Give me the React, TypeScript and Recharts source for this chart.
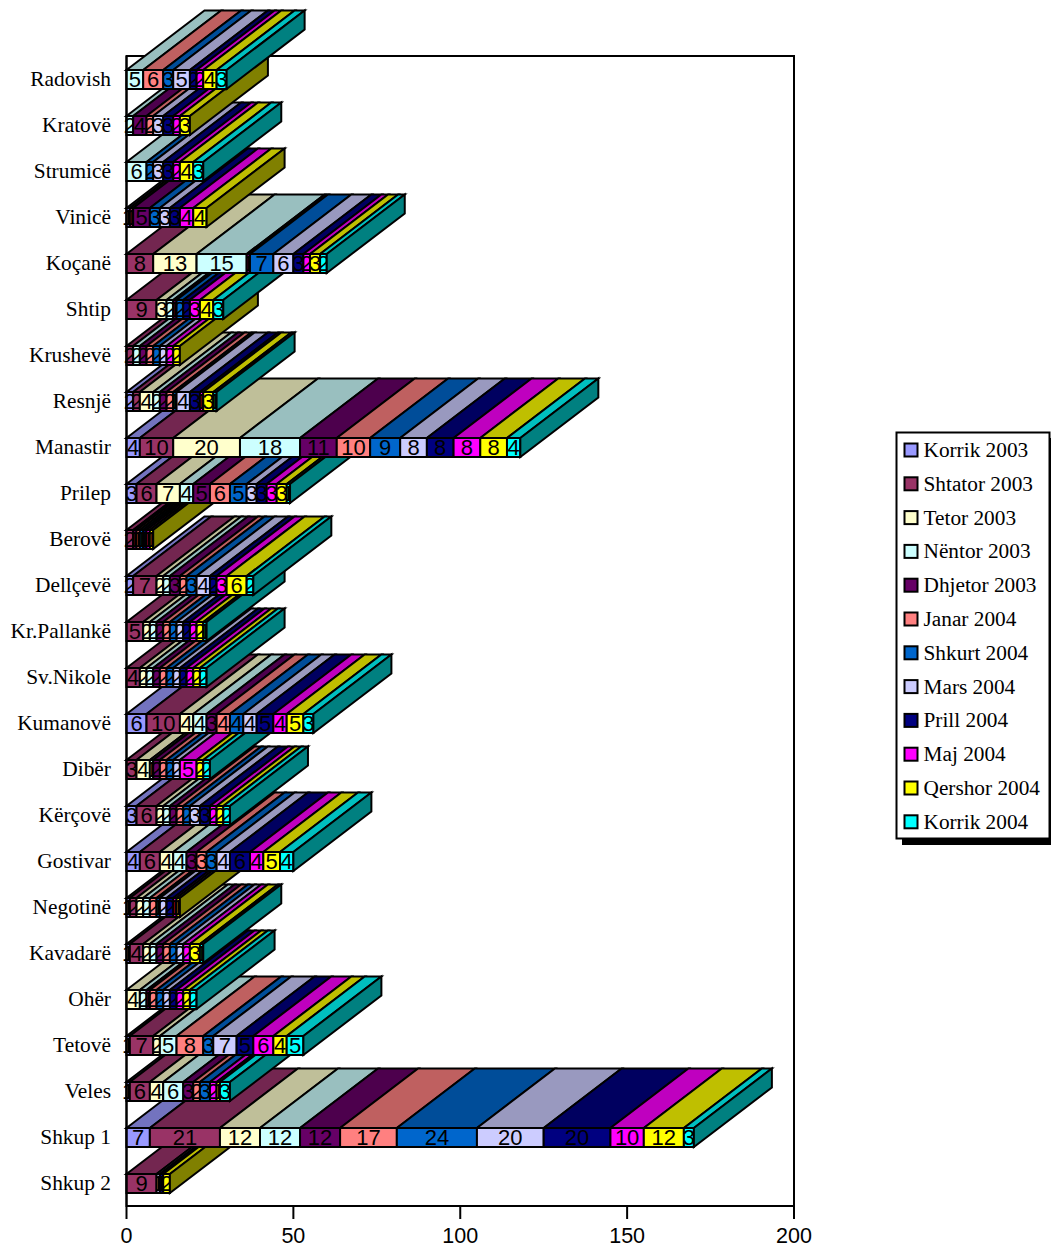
import React from "react";
import { BarChart, Bar, XAxis, YAxis } from "recharts";

// Municipalities, listed from the top of the chart to the bottom.
const cities = ["Radovish","Kratovë","Strumicë","Vinicë","Koçanë","Shtip","Krushevë","Resnjë","Manastir","Prilep","Berovë","Dellçevë","Kr.Pallankë","Sv.Nikole","Kumanovë","Dibër","Kërçovë","Gostivar","Negotinë","Kavadarë","Ohër","Tetovë","Veles","Shkup 1","Shkup 2"];

const korrik03 = [0,0,0,1,0,0,0,2,4,3,0,2,0,0,6,0,3,4,1,1,0,1,1,7,0];
const shtator03 = [0,0,0,1,8,9,2,2,10,6,2,7,5,4,10,3,6,6,2,4,0,7,6,21,9];
const tetor03 = [0,0,0,0,13,3,0,4,20,7,0,2,2,2,4,4,2,4,2,2,4,2,4,12,0];
const nentor03 = [5,2,6,0,15,2,2,2,18,4,0,2,2,2,4,1,2,4,2,2,2,5,6,12,0];
const dhjetor03 = [0,4,0,5,1,1,2,2,11,5,1,3,2,2,3,2,2,3,0,2,1,0,3,12,0];
const janar04 = [6,2,0,0,0,0,2,2,10,6,1,2,2,2,4,2,2,3,2,2,2,8,2,17,0];
const shkurt04 = [3,0,2,3,7,2,2,1,9,5,1,3,2,2,4,2,2,3,1,2,2,3,3,24,0];
const mars04 = [5,3,3,3,6,0,2,4,8,3,0,4,2,2,4,2,3,4,2,2,2,7,0,20,1];
const prill04 = [2,3,3,3,3,2,0,3,8,3,1,2,2,2,5,0,3,6,2,0,2,5,0,20,1];
const maj04 = [2,2,2,4,2,3,2,1,8,3,1,3,2,2,4,5,2,4,1,2,2,6,2,10,0];
const qershor04 = [4,3,4,4,3,4,2,3,8,3,1,6,2,2,5,2,2,5,1,3,2,4,1,12,2];
const korrik04 = [3,0,3,0,2,3,0,1,4,1,0,2,1,2,3,2,2,4,0,1,2,5,3,3,0];

const seriesValues = [korrik03, shtator03, tetor03, nentor03, dhjetor03, janar04, shkurt04, mars04, prill04, maj04, qershor04, korrik04];
const seriesNames = ["Korrik 2003","Shtator 2003","Tetor 2003","Nëntor 2003","Dhjetor 2003","Janar 2004","Shkurt 2004","Mars 2004","Prill 2004","Maj 2004","Qershor 2004","Korrik 2004"];

// Face colours of each series: front, top (three quarters), side (half).
const frontColors = ["#9999FF","#993366","#FFFFCC","#CCFFFF","#660066","#FF8080","#0066CC","#CCCCFF","#000080","#FF00FF","#FFFF00","#00FFFF"];
const topColors = ["#7373BF","#732650","#BFBF99","#99BFBF","#4D004D","#BF6060","#004D99","#9999BF","#000060","#BF00BF","#BFBF00","#00BFBF"];
const sideColors = ["#4D4D80","#4D1A33","#808066","#668080","#330033","#804040","#003366","#666680","#000040","#800080","#808000","#008080"];

const xTicks = [0, 50, 100, 150, 200];

const DEPTH_X = 78;
const DEPTH_Y = 59.5;
const SANS = "'Liberation Sans', Arial, sans-serif";
const SERIF = "'Liberation Serif', 'Times New Roman', serif";

// One row per municipality, one column per municipality/month pair, so each
// segment is its own series and later municipalities paint over earlier ones.
const key = (c: number, s: number) => `c${c}s${s}`;
const chartData = cities.map((city, c) => {
  const row: Record<string, string | number> = { city };
  seriesValues.forEach((vals, s) => {
    if (vals[c] > 0) row[key(c, s)] = vals[c];
  });
  return row;
});

const firstSeriesOf = (c: number) => seriesValues.findIndex((vals) => vals[c] > 0);
const lastSeriesOf = (c: number) => {
  let last = 0;
  seriesValues.forEach((vals, s) => {
    if (vals[c] > 0) last = s;
  });
  return last;
};

// Extruded segment: top face, front face with its value, and the end cap on the last one.
function Segment3D(props: any) {
  const { x, y, width, height, s, label, isFirst, isLast, id } = props;
  if (!(width > 0)) return null;
  const common = { stroke: "#000", strokeWidth: 2, strokeLinejoin: "miter" as const };
  const x2 = x + width;
  const y2 = y + height;
  // Values wider than their segment are cut at its edges; the first one may spill left.
  const clipLeft = isFirst ? x - 10 : x;
  return (
    <g>
      <defs>
        <clipPath id={id}>
          <rect x={clipLeft} y={y - 6} width={x2 - clipLeft} height={height + 12} />
        </clipPath>
      </defs>
      <polygon
        points={`${x},${y} ${x + DEPTH_X},${y - DEPTH_Y} ${x2 + DEPTH_X},${y - DEPTH_Y} ${x2},${y}`}
        fill={topColors[s]}
        {...common}
      />
      <rect x={x} y={y} width={width} height={height} fill={frontColors[s]} {...common} />
      <text
        x={x + width / 2}
        y={y + height / 2 + 7.5}
        textAnchor="middle"
        fontFamily={SANS}
        fontSize={22}
        fill="#000"
        clipPath={`url(#${id})`}
      >
        {label}
      </text>
      {isLast && (
        <polygon
          points={`${x2},${y} ${x2 + DEPTH_X},${y - DEPTH_Y} ${x2 + DEPTH_X},${y2 - DEPTH_Y} ${x2},${y2}`}
          fill={sideColors[s]}
          {...common}
        />
      )}
    </g>
  );
}

// Municipality name, right-aligned against the vertical axis.
function CityTick(props: any) {
  return (
    <text x={props.x} y={props.y + 6.5} textAnchor="end" fontFamily={SERIF} fontSize={21.4} fill="#000">
      {props.payload.value}
    </text>
  );
}

function LegendPanel() {
  return (
    <g>
      <rect x={902} y={438} width={160} height={407} fill="#000" />
      <rect x={896.5} y={432.5} width={153} height={406} fill="#fff" stroke="#000" strokeWidth={2} />
      {seriesNames.map((name, i) => {
        const cy = 450 + i * 33.8;
        return (
          <g key={name}>
            <rect x={904.5} y={cy - 6.5} width={13} height={13} fill={frontColors[i]} stroke="#000" strokeWidth={2} />
            <text x={923.5} y={cy + 7} fontFamily={SERIF} fontSize={21.3} fill="#000">
              {name}
            </text>
          </g>
        );
      })}
    </g>
  );
}

export default function App() {
  const bars: React.ReactNode[] = [];
  // Bottom municipality first, so rows higher up overlap the ones beneath them.
  for (let c = cities.length - 1; c >= 0; c--) {
    const first = firstSeriesOf(c);
    const last = lastSeriesOf(c);
    seriesValues.forEach((vals, s) => {
      if (vals[c] <= 0) return;
      bars.push(
        <Bar
          key={key(c, s)}
          dataKey={key(c, s)}
          name={`${cities[c]} ${seriesNames[s]}`}
          stackId="all"
          barSize={19}
          fill={frontColors[s]}
          isAnimationActive={false}
          shape={(p: any) =>
            p.payload.city === cities[c] ? (
              <Segment3D
                x={p.x}
                y={p.y}
                width={p.width}
                height={p.height}
                s={s}
                label={vals[c]}
                isFirst={s === first}
                isLast={s === last}
                id={`seg-${key(c, s)}`}
              />
            ) : (
              <g />
            )
          }
        />
      );
    });
  }
  return (
    <div style={{ position: "absolute", left: 0, top: 0, width: 1051, height: 1248 }}>
      <BarChart
        width={1051}
        height={1248}
        data={chartData}
        layout="vertical"
        margin={{ top: 56, right: 257, bottom: 0, left: 0 }}
      >
        <rect x={126.5} y={56} width={667.5} height={1150} fill="#fff" stroke="#000" strokeWidth={2} />
        <XAxis
          type="number"
          domain={[0, 200]}
          ticks={xTicks}
          height={42}
          interval={0}
          tickSize={13}
          tickMargin={9}
          axisLine={{ stroke: "#000", strokeWidth: 2 }}
          tickLine={{ stroke: "#000", strokeWidth: 2 }}
          tick={{ fontFamily: SANS, fontSize: 21.5, fill: "#000" }}
        />
        <YAxis
          type="category"
          dataKey="city"
          width={126.5}
          interval={0}
          tickLine={false}
          tickSize={0}
          tickMargin={15.5}
          axisLine={{ stroke: "#000", strokeWidth: 2 }}
          tick={<CityTick />}
        />
        {bars}
        <LegendPanel />
      </BarChart>
    </div>
  );
}
